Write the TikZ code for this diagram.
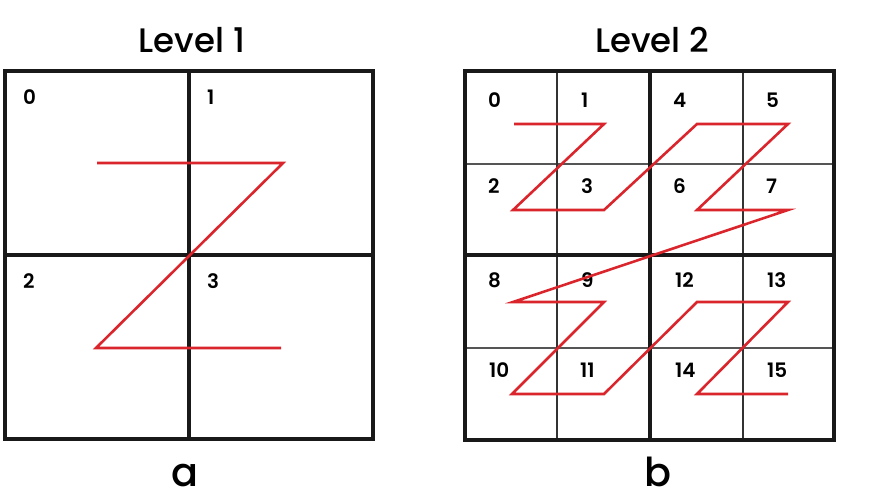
\documentclass[tikz,border=0pt]{standalone}
\usepackage{fontspec}
\setmainfont{Poppins}
\newfontfamily\medfont{Poppins Medium}
\newfontfamily\semifont{Poppins SemiBold}
\definecolor{zred}{RGB}{218,37,44}
\definecolor{gridgray}{RGB}{85,85,85}
\begin{document}
\begin{tikzpicture}[x=0.03cm,y=-0.03cm,
  frame/.style={line width=3pt,black!90},
  half/.style={line width=2.6pt,black!90},
  quarterv/.style={line width=2pt,black!80},
  quarterh/.style={line width=1.6pt,gridgray},
  zline/.style={line width=2.2pt,zred,line join=miter},
  cellnum/.style={anchor=west,inner sep=0pt,font=\semifont\fontsize{17}{17}\selectfont},
  title/.style={inner sep=0pt,font=\medfont\fontsize{29}{29}\selectfont},
  caption/.style={anchor=base,inner sep=0pt,font=\medfont\fontsize{34}{34}\selectfont}]

	\useasboundingbox (0,0) rectangle (873,501);
	\fill[white] (0,0) rectangle (873,501);

	\node[title] (title1) at (192,40) {Level 1};
	\node[title] (title2) at (652,40) {Level 2};

	\draw[half] (189,71) -- (189,439);
	\draw[half] (5,255) -- (373,255);
	\draw[frame] (5,71) rectangle (373,439);

	\draw[quarterh] (465,164) -- (834,164);
	\draw[quarterh] (465,348) -- (834,348);
	\draw[quarterv] (557,71) -- (557,440);
	\draw[quarterv] (743,71) -- (743,440);
	\draw[half] (650,71) -- (650,440);
	\draw[half] (465,255) -- (834,255);
	\draw[frame] (465,71) rectangle (834,440);

	\node[cellnum] (a0) at (23,97) {0};
	\node[cellnum] (a1) at (207,97) {1};
	\node[cellnum] (a2) at (23,281) {2};
	\node[cellnum] (a3) at (207,281) {3};

	\node[cellnum] (b0) at (488,100) {0};
	\node[cellnum] (b1) at (581,100) {1};
	\node[cellnum] (b4) at (673,100) {4};
	\node[cellnum] (b5) at (766,100) {5};
	\node[cellnum] (b2) at (488,186) {2};
	\node[cellnum] (b3) at (581,186) {3};
	\node[cellnum] (b6) at (673,186) {6};
	\node[cellnum] (b7) at (766,186) {7};
	\node[cellnum] (b8) at (488,280) {8};
	\node[cellnum] (b9) at (581,280) {9};
	\node[cellnum] (b12) at (675,280) {12};
	\node[cellnum] (b13) at (767,280) {13};
	\node[cellnum] (b10) at (489,370) {10};
	\node[cellnum] (b11) at (580,370) {11};
	\node[cellnum] (b14) at (675,370) {14};
	\node[cellnum] (b15) at (767,370) {15};

	\coordinate (p0) at (97,163);
	\coordinate (p1) at (283,163);
	\coordinate (p2) at (96,348);
	\coordinate (p3) at (281,348);
	\draw[zline] (p0) -- (p1) -- (p2) -- (p3);

	\coordinate (q0) at (514,124);
	\coordinate (q1) at (604,124);
	\coordinate (q2) at (513,210);
	\coordinate (q3) at (604,210);
	\coordinate (q4) at (697,124);
	\coordinate (q5) at (788,124);
	\coordinate (q6) at (697,210);
	\coordinate (q7) at (788,210);
	\coordinate (q8) at (513,302);
	\coordinate (q9) at (604,302);
	\coordinate (q10) at (512,394);
	\coordinate (q11) at (604,394);
	\coordinate (q12) at (697,302);
	\coordinate (q13) at (788,302);
	\coordinate (q14) at (697,394);
	\coordinate (q15) at (788,394);
	\draw[zline] (q0) -- (q1) -- (q2) -- (q3) -- (q4) -- (q5) -- (q6) -- (q7)
		-- (q8) -- (q9) -- (q10) -- (q11) -- (q12) -- (q13) -- (q14) -- (q15);

	\node[caption] (capa) at (185,486) {a};
	\node[caption] (capb) at (658,486) {b};

\end{tikzpicture}
\end{document}
